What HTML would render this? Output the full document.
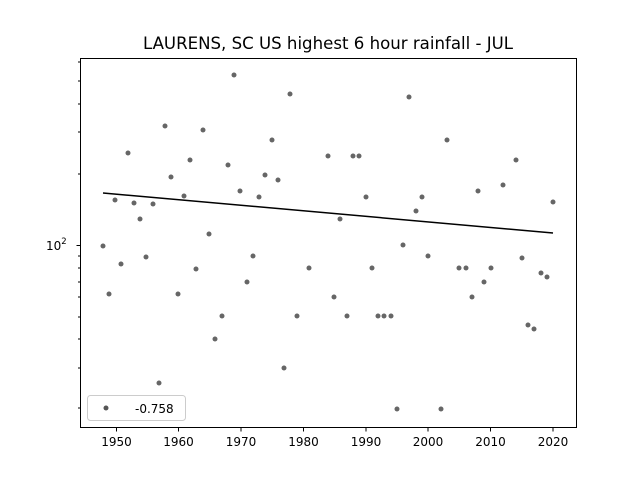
<!DOCTYPE html>
<html><head><style>body{margin:0;background:#fff}svg{display:block}</style></head><body>
<svg width="640" height="480" xmlns="http://www.w3.org/2000/svg" font-family="DejaVu Sans, Liberation Sans, sans-serif">
<rect width="640" height="480" fill="#fff"/>
<text x="328" y="49" font-size="16.6" text-anchor="middle" fill="#000">LAURENS, SC US highest 6 hour rainfall - JUL</text>
<g fill="#555" fill-opacity="0.9">
<circle cx="103" cy="246" r="2.5"/><circle cx="109" cy="294" r="2.5"/><circle cx="115" cy="200" r="2.5"/><circle cx="121" cy="264" r="2.5"/><circle cx="128" cy="153" r="2.5"/><circle cx="134" cy="203" r="2.5"/><circle cx="140" cy="219" r="2.5"/><circle cx="146" cy="257" r="2.5"/><circle cx="153" cy="204" r="2.5"/><circle cx="159" cy="383" r="2.5"/><circle cx="165" cy="126" r="2.5"/><circle cx="171" cy="177" r="2.5"/><circle cx="178" cy="294" r="2.5"/><circle cx="184" cy="196" r="2.5"/><circle cx="190" cy="160" r="2.5"/><circle cx="196" cy="269" r="2.5"/><circle cx="203" cy="130" r="2.5"/><circle cx="209" cy="234" r="2.5"/><circle cx="215" cy="339" r="2.5"/><circle cx="222" cy="316" r="2.5"/><circle cx="228" cy="165" r="2.5"/><circle cx="234" cy="75" r="2.5"/><circle cx="240" cy="191" r="2.5"/><circle cx="247" cy="282" r="2.5"/><circle cx="253" cy="256" r="2.5"/><circle cx="259" cy="197" r="2.5"/><circle cx="265" cy="175" r="2.5"/><circle cx="272" cy="140" r="2.5"/><circle cx="278" cy="180" r="2.5"/><circle cx="284" cy="368" r="2.5"/><circle cx="290" cy="94" r="2.5"/><circle cx="297" cy="316" r="2.5"/><circle cx="309" cy="268" r="2.5"/><circle cx="328" cy="156" r="2.5"/><circle cx="334" cy="297" r="2.5"/><circle cx="340" cy="219" r="2.5"/><circle cx="347" cy="316" r="2.5"/><circle cx="353" cy="156" r="2.5"/><circle cx="359" cy="156" r="2.5"/><circle cx="366" cy="197" r="2.5"/><circle cx="372" cy="268" r="2.5"/><circle cx="378" cy="316" r="2.5"/><circle cx="384" cy="316" r="2.5"/><circle cx="391" cy="316" r="2.5"/><circle cx="397" cy="409" r="2.5"/><circle cx="403" cy="245" r="2.5"/><circle cx="409" cy="97" r="2.5"/><circle cx="416" cy="211" r="2.5"/><circle cx="422" cy="197" r="2.5"/><circle cx="428" cy="256" r="2.5"/><circle cx="441" cy="409" r="2.5"/><circle cx="447" cy="140" r="2.5"/><circle cx="459" cy="268" r="2.5"/><circle cx="466" cy="268" r="2.5"/><circle cx="472" cy="297" r="2.5"/><circle cx="478" cy="191" r="2.5"/><circle cx="484" cy="282" r="2.5"/><circle cx="491" cy="268" r="2.5"/><circle cx="503" cy="185" r="2.5"/><circle cx="516" cy="160" r="2.5"/><circle cx="522" cy="258" r="2.5"/><circle cx="528" cy="325" r="2.5"/><circle cx="534" cy="329" r="2.5"/><circle cx="541" cy="273" r="2.5"/><circle cx="547" cy="277" r="2.5"/><circle cx="553" cy="202" r="2.5"/>
</g>
<line x1="103" y1="193" x2="553" y2="233" stroke="#000" stroke-width="1.5"/>
<rect x="80.5" y="58.5" width="496" height="369" fill="none" stroke="#000" stroke-width="1"/>
<g stroke="#000" stroke-width="1">
<line x1="80" y1="245.5" x2="76.5" y2="245.5"/>
<line x1="80" y1="62" x2="78" y2="62"/><line x1="80" y1="81" x2="78" y2="81"/><line x1="80" y1="104" x2="78" y2="104"/><line x1="80" y1="132" x2="78" y2="132"/><line x1="80" y1="174" x2="78" y2="174"/>
<line x1="80" y1="256" x2="78" y2="256"/><line x1="80" y1="268" x2="78" y2="268"/><line x1="80" y1="282" x2="78" y2="282"/><line x1="80" y1="297" x2="78" y2="297"/><line x1="80" y1="317" x2="78" y2="317"/><line x1="80" y1="339" x2="78" y2="339"/><line x1="80" y1="368" x2="78" y2="368"/><line x1="80" y1="408" x2="78" y2="408"/>
<line x1="116.5" y1="428" x2="116.5" y2="431.5"/><line x1="178.5" y1="428" x2="178.5" y2="431.5"/><line x1="241" y1="428" x2="241" y2="431.5"/><line x1="303.5" y1="428" x2="303.5" y2="431.5"/><line x1="366" y1="428" x2="366" y2="431.5"/><line x1="428" y1="428" x2="428" y2="431.5"/><line x1="490.5" y1="428" x2="490.5" y2="431.5"/><line x1="553" y1="428" x2="553" y2="431.5"/>
</g>
<g font-size="12" text-anchor="middle" fill="#000">
<text x="116.5" y="446">1950</text><text x="178.5" y="446">1960</text><text x="241" y="446">1970</text><text x="303.5" y="446">1980</text><text x="366" y="446">1990</text><text x="428" y="446">2000</text><text x="490.5" y="446">2010</text><text x="553" y="446">2020</text>
</g>
<text x="46" y="250" font-size="12" fill="#000">10<tspan font-size="8.5" dy="-6">2</tspan></text>
<rect x="87.5" y="395.5" width="98" height="25" rx="3" fill="#fff" fill-opacity="0.8" stroke="#ccc"/>
<circle cx="106" cy="408" r="2.5" fill="#555"/>
<text x="135" y="413" font-size="12" fill="#000">-0.758</text>
</svg>
</body></html>
